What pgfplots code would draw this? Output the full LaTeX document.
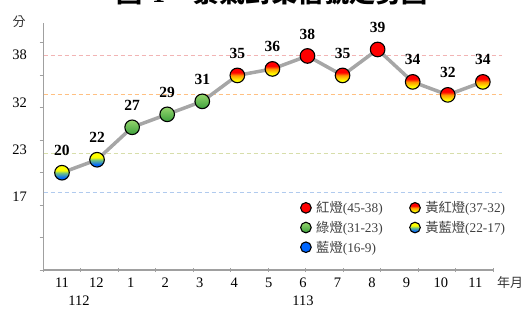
\documentclass[border=0pt]{standalone}
\usepackage{fontspec}
\setmainfont{Liberation Serif}
\newfontfamily\cjk{Noto Sans CJK TC}
\usepackage{pgfplots}
\pgfplotsset{compat=1.18}
\definecolor{lred}{RGB}{255,0,0}
\definecolor{lyellow}{RGB}{255,255,0}
\definecolor{lorange}{RGB}{255,150,0}
\definecolor{lblue}{RGB}{0,102,255}
\definecolor{lgreenT}{RGB}{150,214,110}
\definecolor{lgreenB}{RGB}{60,160,60}
\definecolor{lybmid}{RGB}{120,200,120}
\definecolor{linegray}{RGB}{166,166,166}
\definecolor{axisgray}{RGB}{160,160,160}
\definecolor{refpink}{RGB}{242,180,180}
\definecolor{reforange}{RGB}{255,192,130}
\definecolor{refgreen}{RGB}{215,222,170}
\definecolor{refblue}{RGB}{176,202,238}

\pgfdeclareverticalshading{shR}{100bp}{color(0bp)=(lred); color(100bp)=(lred)}
\pgfdeclareverticalshading{shYR}{100bp}{color(0bp)=(lyellow); color(33bp)=(lyellow); color(50bp)=(lorange); color(60bp)=(lred); color(100bp)=(lred)}
\pgfdeclareverticalshading{shG}{100bp}{color(0bp)=(lgreenB); color(25bp)=(lgreenB); color(75bp)=(lgreenT); color(100bp)=(lgreenT)}
\pgfdeclareverticalshading{shYB}{100bp}{color(0bp)=(lblue); color(33bp)=(lblue); color(50bp)=(lybmid); color(58bp)=(lyellow); color(100bp)=(lyellow)}
\pgfdeclareverticalshading{shB}{100bp}{color(0bp)=(lblue); color(100bp)=(lblue)}

\newcommand\defball[2]{\pgfdeclareplotmark{#1}{%
 \pgfpathcircle{\pgfpointorigin}{\pgfplotmarksize}\pgfshadepath{#2}{0}%
 \pgfpathcircle{\pgfpointorigin}{\pgfplotmarksize}%
 \pgfsetstrokecolor{black}\pgfsetlinewidth{1.1bp}\pgfusepathqstroke}}
\defball{ballR}{shR}
\defball{ballYR}{shYR}
\defball{ballG}{shG}
\defball{ballYB}{shYB}
\defball{ballB}{shB}
\pgfdeclareplotmark{emptymark}{}

\pgfplotstableread{
x y
0 20
1 22
2 27
3 29
4 31
5 35
6 36
7 38
8 35
9 39
10 34
11 32
12 34
}\signal
\pgfplotstableread{
x y
9 39
7 38
}\redpts
\pgfplotstableread{
x y
5 35
6 36
8 35
10 34
11 32
12 34
}\yrpts
\pgfplotstableread{
x y
2 27
3 29
4 31
}\greenpts
\pgfplotstableread{
x y
0 20
1 22
}\ybpts

\begin{document}
\begin{tikzpicture}[x=1bp,y=1bp]
\useasboundingbox (0,0) rectangle (531,312);
\begin{axis}[
  at={(43.5bp,42bp)}, anchor=south west,
  scale only axis, width=449.5bp, height=247bp,
  xmin=-0.527, xmax=12.29, ymin=5, ymax=43.08,
  axis x line=bottom, axis y line=left,
  axis line style={-, draw=axisgray, line width=1.3bp},
  clip=false,
  xtick={0,0.982,1.964,2.946,3.928,4.91,5.892,6.874,7.856,8.838,9.82,10.802,11.784},
  xticklabels={11,12,1,2,3,4,5,6,7,8,9,10,11},
  ytick={38.15,30.75,23.5,16.25}, yticklabels={38,32,23,17},
  major tick length=0pt,
  tick label style={font=\fontsize{14.5bp}{17bp}\selectfont, text=black},
  xticklabel style={anchor=base, yshift=-17bp},
  yticklabel style={anchor=center, xshift=-24bp},
  extra x ticks={-0.527,0.541,1.609,2.677,3.745,4.814,5.882,6.950,8.018,9.086,10.154,11.222,12.290},
  extra x tick labels={},
  extra x tick style={tick align=center, major tick length=4bp, tick style={draw=axisgray, line width=1bp}},
  extra y ticks={5,10,15,20,25,30,35,40}, extra y tick labels={},
  extra y tick style={tick align=outside, major tick length=4bp, tick style={draw=axisgray, line width=1bp}},
  legend columns=2,
  legend cell align=left,
  legend style={at={(0.572,0.2773)}, anchor=north west, draw=none, fill=none,
    inner sep=0pt, outer sep=0pt, font=\fontsize{13.3bp}{15bp}\selectfont, text=black!75,
    row sep=7bp,
    /tikz/every odd column/.append style={column sep=5bp},
    /tikz/every even column/.append style={column sep=27bp},
    nodes={inner sep=0pt}},
  legend image code/.code={\draw[#1] plot coordinates {(0bp,0bp)};},
]
\addplot[refpink, line width=1bp, dash pattern=on 4bp off 3bp, forget plot] coordinates {(-0.527,38) (12.54,38)};
\addplot[reforange, line width=1bp, dash pattern=on 4bp off 3bp, forget plot] coordinates {(-0.527,32) (12.54,32)};
\addplot[refgreen, line width=1bp, dash pattern=on 4bp off 3bp, forget plot] coordinates {(-0.527,23) (12.54,23)};
\addplot[refblue, line width=1bp, dash pattern=on 4bp off 3bp, forget plot] coordinates {(-0.527,17) (12.54,17)};
\addplot[linegray, line width=3.5bp, mark=none, forget plot] table[x=x,y=y] {\signal};
\addplot[only marks, forget plot, mark=ballR, mark size=7.3bp] table[x=x,y=y] {\redpts};
\addplot[only marks, forget plot, mark=ballYR, mark size=7.3bp] table[x=x,y=y] {\yrpts};
\addplot[only marks, forget plot, mark=ballG, mark size=7.3bp] table[x=x,y=y] {\greenpts};
\addplot[only marks, forget plot, mark=ballYB, mark size=7.3bp] table[x=x,y=y] {\ybpts};
\addplot[only marks, forget plot, mark=emptymark, point meta=y,
  nodes near coords={\pgfmathprintnumber[fixed,precision=0,assume math mode=true]{\pgfplotspointmeta}},
  every node near coord/.style={anchor=center, yshift=22bp, text=black, font=\fontsize{15.5bp}{18bp}\selectfont\bfseries}
] table[x=x,y=y] {\signal};
\addlegendimage{only marks, mark=ballR, mark size=5.3bp}
\addlegendentry{{\cjk 紅燈}(45-38)}
\addlegendimage{only marks, mark=ballYR, mark size=5.3bp}
\addlegendentry{{\cjk 黃紅燈}(37-32)}
\addlegendimage{only marks, mark=ballG, mark size=5.3bp}
\addlegendentry{{\cjk 綠燈}(31-23)}
\addlegendimage{only marks, mark=ballYB, mark size=5.3bp}
\addlegendentry{{\cjk 黃藍燈}(22-17)}
\addlegendimage{only marks, mark=ballB, mark size=5.3bp}
\addlegendentry{{\cjk 藍燈}(16-9)}
\end{axis}
\node[anchor=base west, inner sep=0, font=\fontsize{26bp}{30bp}\selectfont\cjk\bfseries] at (116,310) {圖};
\node[anchor=base west, inner sep=0, font=\fontsize{26bp}{30bp}\selectfont\bfseries] at (152,310) {1};
\node[anchor=base west, inner sep=0, font=\fontsize{26bp}{30bp}\selectfont\cjk\bfseries] at (193,310) {景氣對策信號走勢圖};
\node[inner sep=0, font=\fontsize{13bp}{15bp}\selectfont\cjk, text=black!80] at (19,290) {分};
\node[inner sep=0, font=\fontsize{13bp}{15bp}\selectfont\cjk, text=black!80] at (510,29) {年月};
\node[inner sep=0, font=\fontsize{14.5bp}{17bp}\selectfont] at (79,11) {112};
\node[inner sep=0, font=\fontsize{14.5bp}{17bp}\selectfont] at (303,11) {113};
\end{tikzpicture}
\end{document}
